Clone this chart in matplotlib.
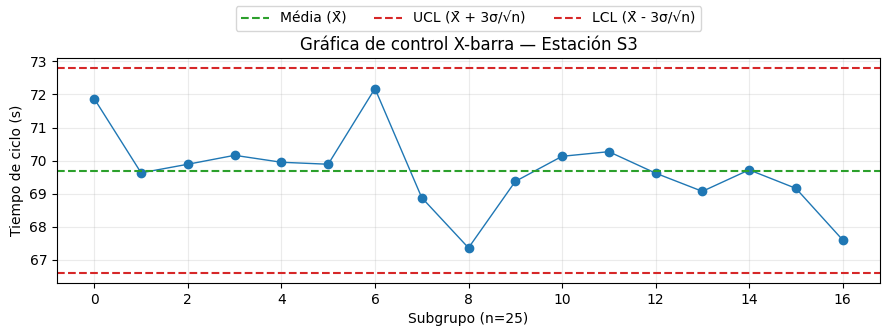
import matplotlib
matplotlib.use("Agg")
import matplotlib.pyplot as plt

subgroups = list(range(17))
xbar = [71.87, 69.63, 69.89, 70.16, 69.95, 69.89, 72.18, 68.88, 67.36, 69.37,
        70.13, 70.27, 69.62, 69.07, 69.72, 69.16, 67.60]
mean_val = 69.70
ucl_val = 72.81
lcl_val = 66.59

fig = plt.figure(figsize=(8.89, 3.36), dpi=100)
ax = fig.add_axes([0.064, 0.158, 0.926, 0.669])

ax.plot(subgroups, xbar, marker='o', color='#1f77b4', linewidth=1, markersize=6)
ax.axhline(mean_val, color='#2ca02c', linestyle='--', linewidth=1.5, label='Média (X\u0304)')
ax.axhline(ucl_val, color='#d62728', linestyle='--', linewidth=1.5, label='UCL (X\u0304 + 3σ/√n)')
ax.axhline(lcl_val, color='#d62728', linestyle='--', linewidth=1.5, label='LCL (X\u0304 - 3σ/√n)')

ax.set_xlim(-0.8, 16.8)
ax.set_ylim(66.3, 73.1)
ax.set_xticks(range(0, 17, 2))
ax.set_yticks(range(67, 74))
ax.grid(True, alpha=0.25)
ax.set_title('Gráfica de control X-barra — Estación S3')
ax.set_xlabel('Subgrupo (n=25)')
ax.set_ylabel('Tiempo de ciclo (s)')
ax.legend(loc='lower center', bbox_to_anchor=(0.5, 1.09), ncol=3, frameon=True)

fig.savefig('out.png', dpi=100)
